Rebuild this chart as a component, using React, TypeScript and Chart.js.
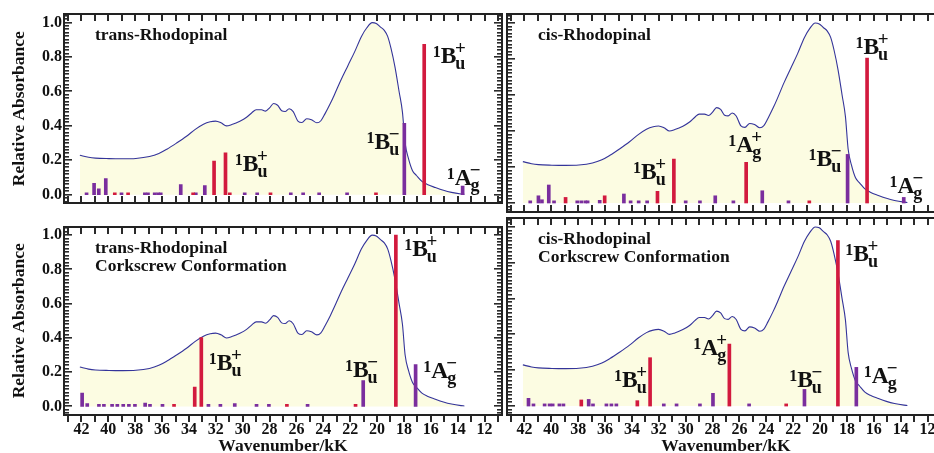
import React, { useEffect, useRef } from 'react';
import { Chart, registerables } from 'chart.js';

Chart.register(...registerables);

const SERIF = "'Liberation Serif', 'Times New Roman', Times, serif";

// ---- experimental absorption spectrum (wavenumber kK, relative absorbance) ----
const spectrumX = [
  42.12, 41.47, 40.96, 39.96, 38.95, 37.95, 36.94, 36.24, 35.64, 34.93, 34.18, 33.53, 32.92,
  32.42, 32.02, 31.61, 31.21, 30.81, 30.21, 29.71, 29.3, 29.0, 28.6, 28.3, 28.0, 27.7, 27.4,
  27.1, 26.84, 26.54, 26.24, 25.89, 25.59, 25.24, 24.88, 24.48, 24.18, 23.88, 23.48, 23.18,
  22.67, 22.17, 21.67, 21.16, 20.76, 20.36, 20.06, 19.76, 19.46, 19.21, 18.96, 18.66, 18.36,
  18.11, 17.91, 17.66, 17.36, 17.06, 16.66, 16.26, 15.66, 15.06, 14.46, 13.75, 13.5,
];
const spectrumY = [
  0.23, 0.218, 0.213, 0.21, 0.209, 0.211, 0.222, 0.24, 0.265, 0.3, 0.34, 0.38, 0.41,
  0.424, 0.428, 0.418, 0.4, 0.408, 0.427, 0.45, 0.478, 0.494, 0.494, 0.486, 0.505, 0.53, 0.52,
  0.488, 0.484, 0.5, 0.483, 0.428, 0.42, 0.442, 0.436, 0.418, 0.43, 0.47, 0.53, 0.58,
  0.67, 0.75, 0.83, 0.92, 0.97, 1.0, 0.995, 0.975, 0.955, 0.92, 0.85, 0.74, 0.6,
  0.48, 0.3, 0.21, 0.14, 0.112, 0.078, 0.06, 0.042, 0.026, 0.014, 0.005, 0.003,
];

// ---- axis tick labels ----
const xTickValues = [42, 40, 38, 36, 34, 32, 30, 28, 26, 24, 22, 20, 18, 16, 14, 12];
const yTickValues = [0, 0.2, 0.4, 0.6, 0.8, 1.0];

// ---- computed transitions: [wavenumber, relative strength] ----
type Bar = [number, number];
const transRed: Bar[] = [
  [39.52, 0.012], [38.53, 0.012], [33.69, 0.012], [32.13, 0.196], [31.28, 0.243], [30.96, 0.012],
  [27.93, 0.012], [20.08, 0.012], [16.49, 0.874],
];
const transPurple: Bar[] = [
  [41.62, 0.012], [41.06, 0.067], [40.71, 0.035], [40.19, 0.094], [39.02, 0.012], [37.28, 0.012],
  [37.05, 0.012], [36.55, 0.012], [36.3, 0.012], [36.1, 0.012], [34.61, 0.06], [33.49, 0.012],
  [32.82, 0.054], [29.85, 0.012], [28.92, 0.012], [26.42, 0.012], [25.5, 0.012], [24.31, 0.012],
  [22.23, 0.012], [17.97, 0.415], [13.63, 0.05],
];
const cisRed: Bar[] = [
  [38.94, 0.031], [36.03, 0.04], [32.1, 0.065], [30.88, 0.244], [25.5, 0.226], [20.8, 0.012],
  [16.5, 0.805],
];
const cisPurple: Bar[] = [
  [41.57, 0.012], [40.96, 0.04], [40.7, 0.018], [40.19, 0.1], [39.8, 0.012], [38.07, 0.012],
  [37.77, 0.012], [37.47, 0.012], [37.3, 0.012], [36.4, 0.015], [34.6, 0.05], [34.1, 0.012],
  [33.5, 0.012], [32.87, 0.012], [30.0, 0.012], [28.94, 0.012], [27.8, 0.04], [26.45, 0.012],
  [24.3, 0.068], [22.35, 0.012], [17.95, 0.27], [13.77, 0.031],
];
const transCorkRed: Bar[] = [
  [35.11, 0.012], [33.57, 0.113], [33.08, 0.402], [26.71, 0.012], [21.6, 0.012], [18.6, 1.0],
];
const transCorkPurple: Bar[] = [
  [41.95, 0.078], [41.57, 0.017], [40.7, 0.012], [40.33, 0.012], [39.72, 0.012], [39.33, 0.012],
  [38.89, 0.012], [38.47, 0.012], [38.02, 0.012], [37.26, 0.02], [36.9, 0.012], [35.97, 0.012],
  [32.55, 0.012], [31.66, 0.012], [30.59, 0.016], [28.97, 0.012], [28.05, 0.012], [25.17, 0.012],
  [21.03, 0.151], [17.13, 0.244],
];
const cisCorkRed: Bar[] = [
  [37.77, 0.034], [33.6, 0.03], [32.65, 0.27], [26.75, 0.346], [22.52, 0.012], [18.67, 0.924],
];
const cisCorkPurple: Bar[] = [
  [41.7, 0.043], [41.33, 0.012], [40.5, 0.012], [40.13, 0.012], [39.9, 0.012], [39.4, 0.012],
  [39.1, 0.012], [37.22, 0.037], [36.9, 0.012], [35.9, 0.012], [35.53, 0.012], [35.16, 0.012],
  [31.63, 0.012], [30.68, 0.012], [28.94, 0.012], [27.97, 0.071], [25.28, 0.012], [21.16, 0.093],
  [17.3, 0.216],
];

// ---- state annotations: [letter, subscript, sign, anchor wavenumber, anchor absorbance] ----
type State = [string, string, string, number, number];
const transStates: State[] = [
  ['B', 'u', '+', 30.59, 0.14], ['B', 'u', '\u2212', 20.78, 0.267],
  ['B', 'u', '+', 15.86, 0.763], ['A', 'g', '\u2212', 14.82, 0.056],
];
const cisStates: State[] = [
  ['B', 'u', '+', 33.92, 0.133], ['A', 'g', '+', 26.83, 0.281], ['B', 'u', '\u2212', 20.86, 0.203],
  ['B', 'u', '+', 17.37, 0.828], ['A', 'g', '\u2212', 14.84, 0.053],
];
const transCorkStates: State[] = [
  ['B', 'u', '+', 32.52, 0.21], ['B', 'u', '\u2212', 22.39, 0.173],
  ['B', 'u', '+', 17.98, 0.881], ['A', 'g', '\u2212', 16.56, 0.164],
];
const cisCorkStates: State[] = [
  ['B', 'u', '+', 35.33, 0.108], ['A', 'g', '+', 29.44, 0.285], ['B', 'u', '\u2212', 22.3, 0.108],
  ['B', 'u', '+', 18.12, 0.81], ['A', 'g', '\u2212', 16.75, 0.127],
];

const RED = '#d21a3e';
const PURPLE = '#7a2e9e';
const LINE = '#34349a';
const FILL = 'rgb(252,252,226)';
const FRAME = '#222222';
const TICK = '#2a2a2a';

interface PanelSpec {
  title: string[];
  red: Bar[];
  purple: Bar[];
  states: State[];
  left: number;
  top: number;
  width: number;
  height: number;
  padding: { top: number; right: number; bottom: number; left: number };
  yWidth: number;
  xHeight: number;
  showY: boolean;
  showX: boolean;
}

const panels: PanelSpec[] = [
  {
    title: ['trans-Rhodopinal'], red: transRed, purple: transPurple, states: transStates,
    left: 0, top: 0, width: 505, height: 215, padding: { top: 14, right: 3, bottom: 0, left: 0 },
    yWidth: 64, xHeight: 3, showY: true, showX: false,
  },
  {
    title: ['cis-Rhodopinal'], red: cisRed, purple: cisPurple, states: cisStates,
    left: 504, top: 0, width: 445, height: 215, padding: { top: 14, right: 4, bottom: 0, left: 0 },
    yWidth: 3, xHeight: 3, showY: false, showX: false,
  },
  {
    title: ['trans-Rhodopinal', 'Corkscrew Conformation'], red: transCorkRed, purple: transCorkPurple,
    states: transCorkStates,
    left: 0, top: 215, width: 505, height: 238, padding: { top: 3, right: 3, bottom: 0, left: 0 },
    yWidth: 64, xHeight: 38, showY: true, showX: true,
  },
  {
    title: ['cis-Rhodopinal', 'Corkscrew Conformation'], red: cisCorkRed, purple: cisCorkPurple,
    states: cisCorkStates,
    left: 504, top: 215, width: 445, height: 238, padding: { top: 3, right: 4, bottom: 0, left: 0 },
    yWidth: 3, xHeight: 38, showY: false, showX: true,
  },
];

function drawState(ctx: CanvasRenderingContext2D, px: number, py: number, s: State) {
  const [letter, sub, sign] = s;
  ctx.save();
  ctx.fillStyle = '#111';
  ctx.textBaseline = 'alphabetic';
  ctx.textAlign = 'left';
  ctx.font = `bold 16px ${SERIF}`;
  ctx.fillText('1', px, py - 6);
  const w1 = ctx.measureText('1').width;
  ctx.font = `bold 23.5px ${SERIF}`;
  ctx.fillText(letter, px + w1, py);
  const wL = ctx.measureText(letter).width;
  const sx = px + w1 + wL - 1;
  ctx.font = `bold 18px ${SERIF}`;
  ctx.fillText(sub, sx, py + 6);
  const wS = ctx.measureText(sub).width;
  ctx.font = `bold 19px ${SERIF}`;
  ctx.textAlign = 'center';
  ctx.fillText(sign, sx + wS / 2, py - 9);
  ctx.restore();
}

const decorPlugin = {
  id: 'panelDecor',
  afterDraw(chart: any) {
    const ctx: CanvasRenderingContext2D = chart.ctx;
    const area = chart.chartArea;
    const left = Math.round(area.left);
    const right = Math.round(area.right);
    const top = Math.round(area.top);
    const bottom = Math.round(area.bottom);
    const xs = chart.scales.x;
    const ys = chart.scales.y;
    const spec: PanelSpec = chart.options.plugins.panelDecor.spec;

    // state labels
    spec.states.forEach((s) => {
      drawState(ctx, xs.getPixelForValue(s[3]), ys.getPixelForValue(s[4]), s);
    });

    // panel title
    ctx.save();
    ctx.fillStyle = '#111';
    ctx.font = `bold 17.5px ${SERIF}`;
    ctx.textAlign = 'left';
    ctx.textBaseline = 'alphabetic';
    spec.title.forEach((t, i) => ctx.fillText(t, left + 31, top + 26 + i * 17.7));
    ctx.restore();

    // tick marks (every 1 kK on x, every 0.02 on y)
    ctx.save();
    ctx.fillStyle = TICK;
    for (let v = 11; v <= 43; v++) {
      const px = Math.round(xs.getPixelForValue(v));
      if (px < left || px > right) continue;
      ctx.fillRect(px - 1, top, 2, 7);
      if (spec.showX) {
        ctx.fillRect(px - 1, bottom, 2, 7);
      } else {
        ctx.fillRect(px - 1, bottom - 7, 2, 7);
      }
    }
    for (let k = -2; k <= 52; k++) {
      const py = Math.round(ys.getPixelForValue(k * 0.02));
      const len = k % 10 === 0 ? 8 : 5;
      ctx.fillRect(left, py - 1, len, 1.6);
      ctx.fillRect(right - len, py - 1, len, 1.6);
    }
    // frame
    ctx.fillStyle = FRAME;
    ctx.fillRect(left - 1, top - 1, right - left + 2, 2);
    ctx.fillRect(left - 1, bottom - 1, right - left + 2, 2);
    ctx.fillRect(left - 1, top - 1, 2, bottom - top + 2);
    ctx.fillRect(right - 1, top - 1, 2, bottom - top + 2);
    ctx.restore();
  },
};

function makeConfig(spec: PanelSpec): any {
  const tickFont = { family: SERIF, size: 16, weight: 'bold' as const };
  const titleFont = { family: SERIF, size: 17.5, weight: 'bold' as const };
  return {
    type: 'bar',
    data: {
      datasets: [
        {
          type: 'bar',
          data: spec.red.map(([x, y]) => ({ x, y })),
          backgroundColor: RED,
          barThickness: 3,
          grouped: false,
          order: 0,
        },
        {
          type: 'bar',
          data: spec.purple.map(([x, y]) => ({ x, y })),
          backgroundColor: PURPLE,
          barThickness: 3,
          grouped: false,
          order: 0,
        },
        {
          type: 'line',
          data: spectrumX.map((x, i) => ({ x, y: spectrumY[i] })),
          borderColor: LINE,
          borderWidth: 1.1,
          backgroundColor: FILL,
          fill: 'origin',
          pointRadius: 0,
          cubicInterpolationMode: 'monotone',
          order: 1,
        },
      ],
    },
    options: {
      responsive: false,
      animation: false,
      devicePixelRatio: 1,
      events: [],
      layout: { padding: spec.padding },
      plugins: {
        legend: { display: false },
        tooltip: { enabled: false },
        panelDecor: { spec },
      },
      scales: {
        x: {
          type: 'linear',
          reverse: true,
          min: 10.7,
          max: 43.3,
          offset: false,
          grid: { display: false, drawTicks: false },
          border: { display: false },
          afterBuildTicks: (s: any) => {
            s.ticks = xTickValues.map((v) => ({ value: v }));
          },
          afterFit: (s: any) => {
            s.height = spec.xHeight;
          },
          ticks: {
            display: spec.showX,
            font: tickFont,
            color: '#111',
            padding: 5,
            autoSkip: false,
            maxRotation: 0,
            callback: (v: any) => String(v),
          },
          title: {
            display: spec.showX,
            text: 'Wavenumber/kK',
            font: { ...titleFont, lineHeight: 0.7 },
            color: '#111',
            padding: { top: 0, bottom: 0 },
          },
        },
        y: {
          type: 'linear',
          min: -0.05,
          max: 1.05,
          grid: { display: false, drawTicks: false },
          border: { display: false },
          afterBuildTicks: (s: any) => {
            s.ticks = yTickValues.map((v) => ({ value: v }));
          },
          afterFit: (s: any) => {
            s.width = spec.yWidth;
          },
          ticks: {
            display: spec.showY,
            font: tickFont,
            color: '#111',
            padding: 2,
            callback: (v: any) => Number(v).toFixed(1),
          },
          title: {
            display: spec.showY,
            text: 'Relative Absorbance',
            font: { ...titleFont, lineHeight: 1 },
            color: '#111',
            padding: { top: 11, bottom: 0 },
          },
        },
      },
    },
    plugins: [decorPlugin],
  };
}

function Panel({ spec }: { spec: PanelSpec }) {
  const ref = useRef<HTMLCanvasElement>(null);
  useEffect(() => {
    if (!ref.current) return;
    const chart = new Chart(ref.current, makeConfig(spec));
    return () => chart.destroy();
  }, [spec]);
  return (
    <canvas
      ref={ref}
      width={spec.width}
      height={spec.height}
      style={{
        position: 'absolute',
        left: spec.left,
        top: spec.top,
        width: spec.width,
        height: spec.height,
        display: 'block',
      }}
    />
  );
}

export default function App() {
  return (
    <div
      style={{
        position: 'fixed',
        left: 0,
        top: 0,
        width: 934,
        height: 453,
        overflow: 'hidden',
        background: '#ffffff',
      }}
    >
      {panels.map((p, i) => (
        <Panel key={i} spec={p} />
      ))}
    </div>
  );
}
